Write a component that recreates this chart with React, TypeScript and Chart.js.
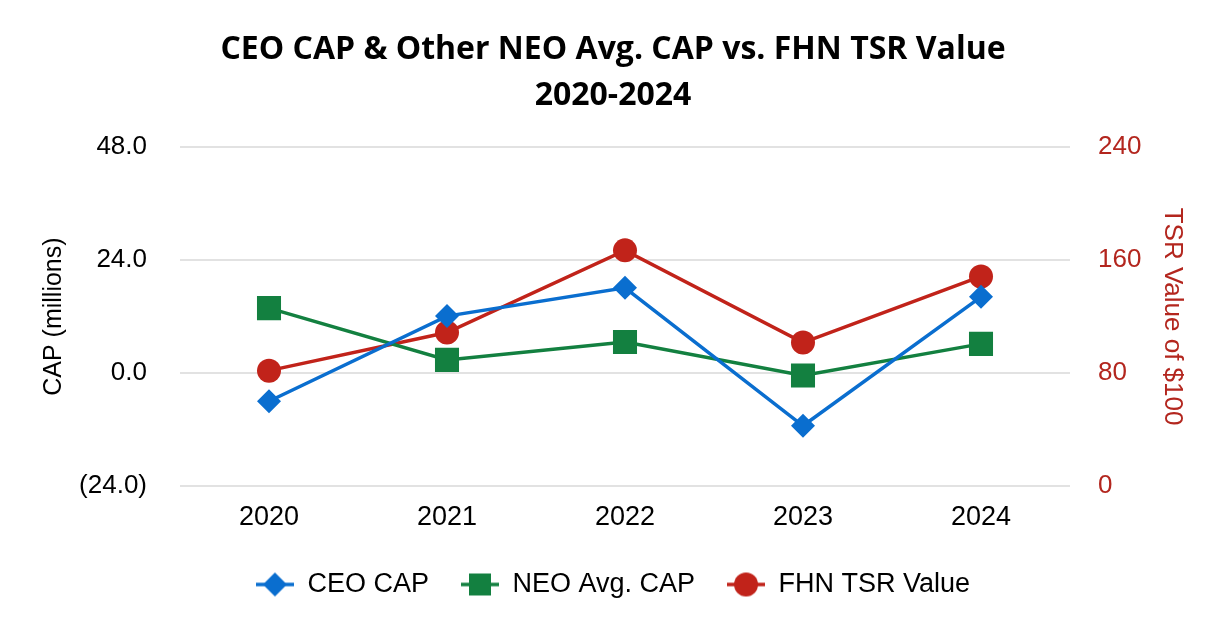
import React, { useEffect, useRef } from "react";
import { Chart, registerables } from "chart.js";

Chart.register(...registerables);

const titleLines = ["CEO CAP & Other NEO Avg. CAP vs. FHN TSR Value", "2020-2024"];
const years = ["2020", "2021", "2022", "2023", "2024"];
const ceoCap = [-6.0, 12.1, 18.1, -11.2, 16.2];
const neoAvgCap = [13.8, 2.8, 6.6, -0.5, 6.2];
const fhnTsr = [81.7, 108.7, 166.9, 101.6, 148.4];
const leftTicks = [-24, 0, 24, 48];
const rightTicks = [0, 80, 160, 240];

const BLUE = "#0A6ECF";
const GREEN = "#138040";
const RED = "#C1231A";
const FONT = "'Liberation Sans', Arial, sans-serif";

function legendIcon(color: string, style: string): HTMLCanvasElement {
  const c = document.createElement("canvas");
  c.width = 38;
  c.height = 26;
  const ctx = c.getContext("2d")!;
  ctx.strokeStyle = color;
  ctx.lineWidth = 3.5;
  ctx.beginPath();
  ctx.moveTo(0, 13);
  ctx.lineTo(38, 13);
  ctx.stroke();
  ctx.fillStyle = color;
  ctx.beginPath();
  if (style === "diamond") {
    ctx.moveTo(19, 1);
    ctx.lineTo(31, 13);
    ctx.lineTo(19, 25);
    ctx.lineTo(7, 13);
    ctx.closePath();
  } else if (style === "square") {
    ctx.rect(8, 2, 22, 22);
  } else {
    ctx.arc(19, 13, 12, 0, Math.PI * 2);
  }
  ctx.fill();
  return c;
}

export default function App() {
  const ref = useRef<HTMLCanvasElement | null>(null);

  useEffect(() => {
    document.body.style.margin = "0";
    const icons = [legendIcon(BLUE, "diamond"), legendIcon(GREEN, "square"), legendIcon(RED, "circle")];
    const chart = new Chart(ref.current!, {
      type: "line",
      data: {
        labels: years,
        datasets: [
          {
            label: "CEO CAP",
            data: ceoCap,
            yAxisID: "y",
            borderColor: BLUE,
            backgroundColor: BLUE,
            borderWidth: 3.5,
            pointStyle: "rectRot",
            pointRadius: 12,
            pointBorderWidth: 0,
          },
          {
            label: "NEO Avg. CAP",
            data: neoAvgCap,
            yAxisID: "y",
            borderColor: GREEN,
            backgroundColor: GREEN,
            borderWidth: 3.5,
            pointStyle: "rect",
            pointRadius: 17,
            pointBorderWidth: 0,
          },
          {
            label: "FHN TSR Value",
            data: fhnTsr,
            yAxisID: "y1",
            borderColor: RED,
            backgroundColor: RED,
            borderWidth: 3.5,
            pointStyle: "circle",
            pointRadius: 12,
            pointBorderWidth: 0,
          },
        ],
      },
      options: {
        animation: false,
        responsive: false,
        maintainAspectRatio: false,
        layout: { padding: { left: 0, right: 0, top: 0, bottom: 32 } },
        plugins: {
          title: {
            display: true,
            text: titleLines,
            color: "#000",
            font: { family: "'Open Sans', sans-serif", size: 32, weight: "bold", lineHeight: 1.44 },
            padding: { top: 27, bottom: 28 },
          },
          legend: {
            position: "bottom",
            labels: {
              usePointStyle: true,
              pointStyleWidth: 38,
              padding: 32,
              color: "#000",
              font: { family: FONT, size: 27 },
              generateLabels: (ch: any) =>
                ch.data.datasets.map((ds: any, i: number) => ({
                  text: ds.label,
                  fillStyle: ds.borderColor,
                  strokeStyle: ds.borderColor,
                  pointStyle: icons[i],
                  lineWidth: 0,
                  hidden: false,
                  datasetIndex: i,
                  fontColor: "#000",
                })),
            },
          },
          tooltip: { enabled: false },
        },
        scales: {
          x: {
            offset: true,
            grid: { display: false, drawTicks: false },
            border: { display: false },
            ticks: { color: "#000", font: { family: FONT, size: 27 }, padding: 15 },
            afterFit: (s: any) => {
              s.height = 53;
            },
          },
          y: {
            position: "left",
            min: -24,
            max: 48,
            afterBuildTicks: (s: any) => {
              s.ticks = leftTicks.map((v) => ({ value: v }));
            },
            grid: { color: "#E2E2E2", lineWidth: 2, drawTicks: false },
            border: { display: false },
            ticks: {
              color: "#000",
              font: { family: FONT, size: 26 },
              padding: 33,
              callback: (v: any) => (v < 0 ? `(${Math.abs(v).toFixed(1)})` : Number(v).toFixed(1)),
            },
            title: {
              display: true,
              text: "CAP (millions)",
              color: "#000",
              font: { family: FONT, size: 25 },
              padding: { top: 39, bottom: 0 },
            },
            afterFit: (s: any) => {
              s.width = 180;
            },
          },
          y1: {
            position: "right",
            min: 0,
            max: 240,
            afterBuildTicks: (s: any) => {
              s.ticks = rightTicks.map((v) => ({ value: v }));
            },
            grid: { display: false, drawTicks: false },
            border: { display: false },
            ticks: {
              color: "#B3261E",
              font: { family: FONT, size: 26 },
              padding: 28,
            },
            title: {
              display: true,
              text: "TSR Value of $100",
              color: "#B3261E",
              font: { family: FONT, size: 26 },
              padding: { top: 38, bottom: 0 },
            },
            afterFit: (s: any) => {
              s.width = 156;
            },
          },
        },
      },
    });
    return () => chart.destroy();
  }, []);

  return (
    <div style={{ width: 1226, height: 640, background: "#fff" }}>
      <canvas ref={ref} width={1226} height={640} style={{ display: "block" }} />
    </div>
  );
}
